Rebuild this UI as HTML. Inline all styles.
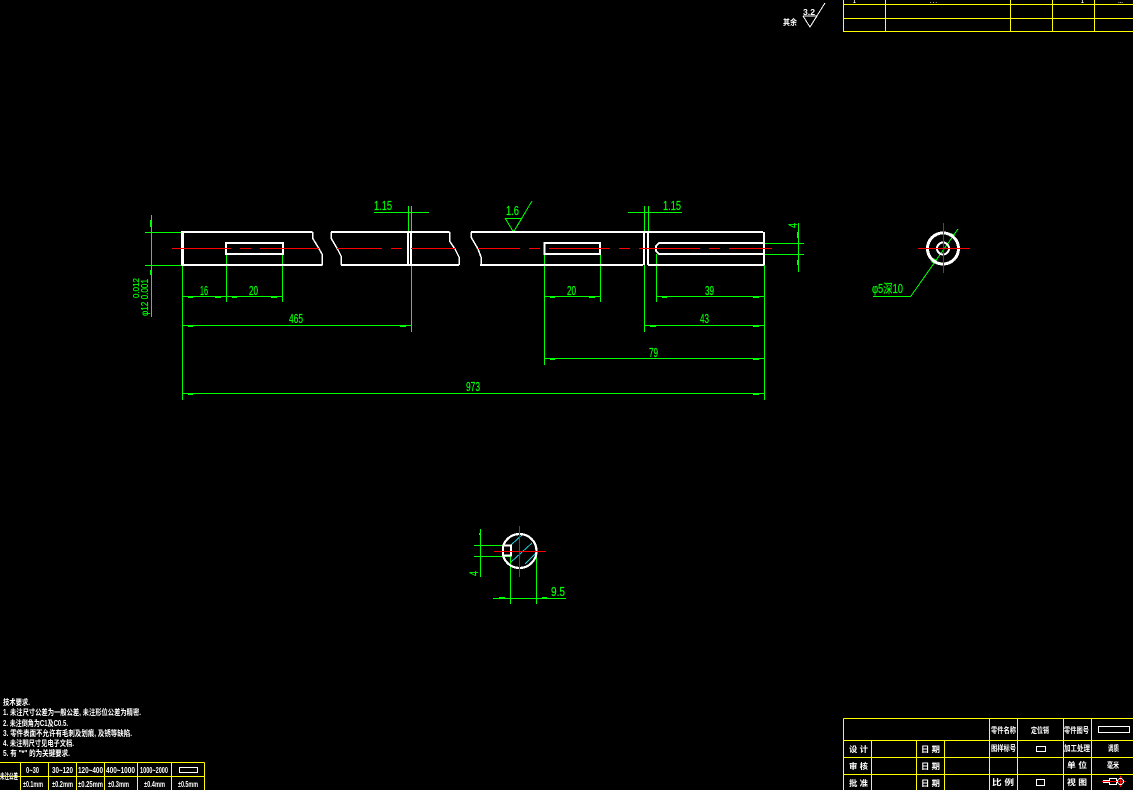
<!DOCTYPE html>
<html><head><meta charset="utf-8"><style>
html,body{margin:0;padding:0;background:#000;width:1133px;height:790px;overflow:hidden}
svg{display:block}
text{font-family:"Liberation Sans","Noto Sans CJK SC",sans-serif}
.g text{fill:#0f0;font-size:12.500px;stroke:#0f0;stroke-width:.2px}
.w text{fill:#fff;font-size:8px;font-weight:bold}
</style></head><body>
<svg width="1133" height="790" viewBox="0 0 1133 790" xmlns="http://www.w3.org/2000/svg" shape-rendering="crispEdges">
<rect width="1133" height="790" fill="#000"/>

<!-- cyan hatch -->
<path d="M511 545L523 534M511 562L532 543M525 564L536 553" stroke="#2cd" stroke-width="1" fill="none"/>

<!-- green lines -->
<g stroke="#0f0" stroke-width="1" fill="none">
<path d="M151.500 215V317M145 232.500H183M145 265.500H183"/>
<path d="M182.500 265V400M226.500 254V302M282.500 254V302M182 296.500H283"/>
<path d="M182 325.500H411.500M411.500 265V332M182 393.500H765"/>
<path d="M408.500 206V232M411.500 206V232M374 212.500H429"/>
<path d="M644.500 206V232M648.500 206V232M628 212.500H682"/>
<path d="M544.500 254V365M600.500 254V302M544 296.500H601"/>
<path d="M656.500 254V302M656 296.500H765M644.500 265V332M644 325.500H765M544 358.500H765M764.500 255V400"/>
<path d="M764 243.500H804M764 254.500H804M798.500 223V272"/>
<path d="M505 218.500H522"/>
<path d="M873 296.500H911"/>
<path d="M480.500 529V577M474 545.500H511M474 556.500H511M510.500 556V604M536.500 550V604M493 598.500H566"/>
<path d="M505 218L513.500 232L522 218M513.500 232L532 201"/>
<path d="M911 296L958 229"/>
</g>
<!-- arrow ticks -->
<g fill="#0f0">
<rect x="150" y="220" width="2" height="7"/><rect x="150" y="270" width="2" height="5"/>
<rect x="188" y="296" width="5" height="2"/><rect x="215" y="296" width="6" height="2"/><rect x="232" y="296" width="5" height="2"/><rect x="271" y="296" width="6" height="2"/>
<rect x="188" y="325" width="5" height="2"/><rect x="400" y="325" width="6" height="2"/><rect x="188" y="393" width="5" height="2"/><rect x="753" y="393" width="6" height="2"/>
<rect x="550" y="296" width="5" height="2"/><rect x="589" y="296" width="6" height="2"/><rect x="662" y="296" width="5" height="2"/><rect x="753" y="296" width="6" height="2"/>
<rect x="650" y="325" width="6" height="2"/><rect x="753" y="325" width="6" height="2"/><rect x="550" y="358" width="5" height="2"/><rect x="753" y="358" width="6" height="2"/>
<rect x="797" y="232" width="2" height="6"/><rect x="797" y="260" width="2" height="5"/>
<rect x="479" y="533" width="2" height="2"/>
<rect x="499" y="597" width="6" height="2"/><rect x="542" y="597" width="5" height="2"/>
</g>
<path d="M951 233L955 235L953 238L949 236ZM933 258L937 260L935 264L931 262Z" fill="#0f0"/>

<!-- white geometry -->
<g stroke="#fff" stroke-width="2" fill="none">
<path d="M183 232H312.500M183 265H322.500"/>
<path d="M331 232H449.500M341 265H459"/>
<path d="M471 232H763M480 265H643M648 265H764"/>
<path d="M226 243H283V254H226Z"/>
<path d="M544.500 243H600V254H544.500Z"/>
<path d="M764 243H659L656 246V251L659 254H764"/>
<path d="M408 232V265M411 232V265M644 232V265M648 232V265M764 232V265"/>
</g>
<rect x="181" y="231" width="3" height="35" fill="#fff"/>
<g stroke="#fff" stroke-width="1.500" fill="none">
<path d="M312.500 232V238L318 247L322 254V265"/>
<path d="M331 232V238L338 250L341 256V265"/>
<path d="M449.500 232V241L455 249L459 257V265"/>
<path d="M471 232V237L478 249L481 257V265"/>
</g>
<circle cx="943" cy="248.500" r="15.500" fill="none" stroke="#fff" stroke-width="3"/>
<circle cx="943" cy="248.500" r="6" fill="none" stroke="#fff" stroke-width="2"/>
<circle cx="519.500" cy="551" r="17" fill="none" stroke="#fff" stroke-width="2.200"/>
<rect x="496" y="546" width="8" height="10" fill="#000"/>
<path d="M503 545.500H511V555.500H503V545.500" fill="none" stroke="#fff" stroke-width="2"/>

<!-- red centre lines -->
<g stroke="#f00" stroke-width="1" fill="none">
<path d="M172 248.500H231M240 248.500H251M260 248.500H319M337 248.500H382M391 248.500H402M411 248.500H455M478 248.500H520M529 248.500H540M549 248.500H610M619 248.500H630M639 248.500H700M709 248.500H720M729 248.500H772"/>
<path d="M918 248.500H970M943.500 223V273"/>
<path d="M494 551.500H546M519.500 526V577"/>
</g>

<!-- green labels -->
<g class="g">
<text x="200" y="295" textLength="8" lengthAdjust="spacingAndGlyphs">16</text>
<text x="249" y="295" textLength="9" lengthAdjust="spacingAndGlyphs">20</text>
<text x="567" y="295" textLength="9" lengthAdjust="spacingAndGlyphs">20</text>
<text x="705" y="295" textLength="9" lengthAdjust="spacingAndGlyphs">39</text>
<text x="289" y="323" textLength="14" lengthAdjust="spacingAndGlyphs">465</text>
<text x="700" y="323" textLength="9" lengthAdjust="spacingAndGlyphs">43</text>
<text x="649" y="357" textLength="9" lengthAdjust="spacingAndGlyphs">79</text>
<text x="466" y="391" textLength="14" lengthAdjust="spacingAndGlyphs">973</text>
<text x="374" y="210" textLength="18" lengthAdjust="spacingAndGlyphs">1.15</text>
<text x="663" y="210" textLength="18" lengthAdjust="spacingAndGlyphs">1.15</text>
<text x="506" y="215" textLength="13" lengthAdjust="spacingAndGlyphs">1.6</text>
<text x="551" y="596" textLength="14" lengthAdjust="spacingAndGlyphs">9.5</text>
<text x="872" y="293" textLength="31" lengthAdjust="spacingAndGlyphs">φ5深10</text>
<text transform="translate(148 316) rotate(-90)" textLength="37" lengthAdjust="spacingAndGlyphs" style="font-size:10px">φ12 0.001</text>
<text transform="translate(139 298) rotate(-90)" textLength="20" lengthAdjust="spacingAndGlyphs" style="font-size:8px">0.012</text>
<text transform="translate(797 228) rotate(-90)" textLength="5" lengthAdjust="spacingAndGlyphs" style="font-size:12px">4</text>
<text transform="translate(478 576) rotate(-90)" textLength="5" lengthAdjust="spacingAndGlyphs" style="font-size:12px">4</text>
</g>

<!-- yellow tables -->
<g stroke="#ff0" stroke-width="1" fill="none">
<path d="M843.500 0V31.500H1133M843.500 4.500H1133M843.500 18.500H1133M885.500 0V31.500M1010.500 0V31.500M1052.500 0V31.500M1094.500 0V31.500"/>
<path d="M843.500 718.500H1133M843.500 740.500H1133M843.500 757.500H1133M843.500 774.500H1133M843.500 718.500V790M871.500 740.500V790M916.500 740.500V790M944.500 740.500V790M989.500 718.500V790M1017.500 718.500V790M1063.500 718.500V790M1091.500 718.500V790"/>
<path d="M0 762.500H204.500M0 776.500H204.500M20.500 762.500V790M48.500 762.500V790M76.500 762.500V790M104.500 762.500V790M137.500 762.500V790M171.500 762.500V790M204.500 762.500V790"/>
</g>

<!-- white small shapes -->
<g stroke="#fff" stroke-width="1" fill="none">
<rect x="179.500" y="767.500" width="18" height="5"/>
<rect x="1098.500" y="726.500" width="31" height="6"/>
<rect x="1036.500" y="746.500" width="9" height="5"/>
<rect x="1036.500" y="779.500" width="8" height="6"/>
<path d="M1103.500 780.500H1109.500V778.500H1116.500V784.500H1109.500V782.500H1103.500Z"/>
<path d="M803 16L810 27L817 16H803M810 27L825 3"/>
</g>
<path d="M1102 781.500H1126M1120.500 776V787" stroke="#f00" stroke-width="1" fill="none"/>
<circle cx="1120.500" cy="781.500" r="3" fill="none" stroke="#fff" stroke-width="1"/>

<!-- white text -->
<g class="w">
<text x="803" y="15" textLength="12" lengthAdjust="spacingAndGlyphs">3.2</text>
<text x="783" y="25" textLength="14" lengthAdjust="spacingAndGlyphs">其余</text>
<text x="853" y="3" style="font-size:5px">1</text><text x="930" y="3" style="font-size:5px">. . .</text><text x="1081" y="3" style="font-size:5px">1</text><text x="1118" y="3" style="font-size:5px">…</text>

<text x="3" y="705" textLength="27" lengthAdjust="spacingAndGlyphs">技术要求.</text>
<text x="3" y="715" textLength="138" lengthAdjust="spacingAndGlyphs">1. 未注尺寸公差为一般公差, 未注形位公差为精密.</text>
<text x="3" y="726" textLength="65" lengthAdjust="spacingAndGlyphs">2. 未注倒角为C1及C0.5.</text>
<text x="3" y="736" textLength="129" lengthAdjust="spacingAndGlyphs">3. 零件表面不允许有毛刺及划痕, 及锈等缺陷.</text>
<text x="3" y="746" textLength="71" lengthAdjust="spacingAndGlyphs">4. 未注明尺寸见电子文档.</text>
<text x="3" y="756" textLength="67" lengthAdjust="spacingAndGlyphs">5. 有 "*" 的为关键要求.</text>

<text x="0" y="779" textLength="18" lengthAdjust="spacingAndGlyphs">未注公差</text>
<text x="26" y="773" textLength="13" lengthAdjust="spacingAndGlyphs">0~30</text>
<text x="52" y="773" textLength="21" lengthAdjust="spacingAndGlyphs">30~120</text>
<text x="78" y="773" textLength="25" lengthAdjust="spacingAndGlyphs">120~400</text>
<text x="106" y="773" textLength="29" lengthAdjust="spacingAndGlyphs">400~1000</text>
<text x="140" y="773" textLength="28" lengthAdjust="spacingAndGlyphs">1000~2000</text>
<text x="23" y="787" textLength="20" lengthAdjust="spacingAndGlyphs">±0.1mm</text>
<text x="52" y="787" textLength="21" lengthAdjust="spacingAndGlyphs">±0.2mm</text>
<text x="78" y="787" textLength="25" lengthAdjust="spacingAndGlyphs">±0.25mm</text>
<text x="108" y="787" textLength="21" lengthAdjust="spacingAndGlyphs">±0.3mm</text>
<text x="144" y="787" textLength="21" lengthAdjust="spacingAndGlyphs">±0.4mm</text>
<text x="178" y="787" textLength="20" lengthAdjust="spacingAndGlyphs">±0.5mm</text>

<text x="991" y="733" textLength="25" lengthAdjust="spacingAndGlyphs">零件名称</text>
<text x="1031" y="733" textLength="18" lengthAdjust="spacingAndGlyphs">定位销</text>
<text x="1064" y="733" textLength="25" lengthAdjust="spacingAndGlyphs">零件图号</text>
<text x="991" y="751" textLength="25" lengthAdjust="spacingAndGlyphs">图样标号</text>
<text x="1064" y="751" textLength="26" lengthAdjust="spacingAndGlyphs">加工处理</text>
<text x="1108" y="751" textLength="11" lengthAdjust="spacingAndGlyphs">调质</text>
<text x="1067" y="768" textLength="20" lengthAdjust="spacingAndGlyphs">单  位</text>
<text x="1107" y="768" textLength="12" lengthAdjust="spacingAndGlyphs">毫米</text>
<text x="992" y="785" textLength="22" lengthAdjust="spacingAndGlyphs">比  例</text>
<text x="1067" y="785" textLength="20" lengthAdjust="spacingAndGlyphs">视  图</text>
<text x="849" y="752" textLength="19" lengthAdjust="spacingAndGlyphs">设  计</text>
<text x="849" y="769" textLength="19" lengthAdjust="spacingAndGlyphs">审  核</text>
<text x="849" y="786" textLength="19" lengthAdjust="spacingAndGlyphs">批  准</text>
<text x="921" y="752" textLength="19" lengthAdjust="spacingAndGlyphs">日  期</text>
<text x="921" y="769" textLength="19" lengthAdjust="spacingAndGlyphs">日  期</text>
<text x="921" y="786" textLength="19" lengthAdjust="spacingAndGlyphs">日  期</text>
</g>
</svg>
</body></html>
